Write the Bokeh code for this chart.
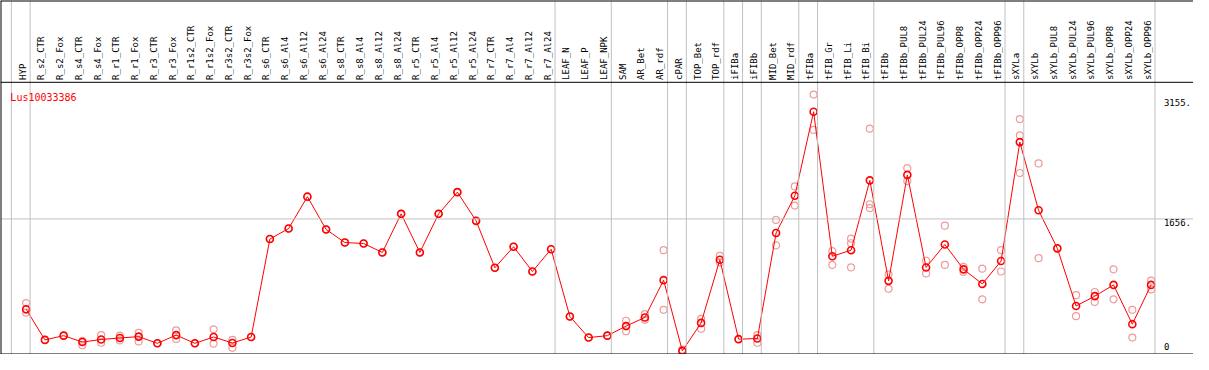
import numpy as np
from bokeh.plotting import figure
from bokeh.models import Range1d, Span, Label, ColumnDataSource
from bokeh.core.properties import value
from bokeh.embed import file_html
from bokeh.resources import INLINE

# ---------------- data ----------------
samples = ["HYP", "R_s2_CTR", "R_s2_Fox", "R_s4_CTR", "R_s4_Fox", "R_r1_CTR", "R_r1_Fox",
           "R_r3_CTR", "R_r3_Fox", "R_r1s2_CTR", "R_r1s2_Fox", "R_r3s2_CTR", "R_r3s2_Fox",
           "R_s6_CTR", "R_s6_Al4", "R_s6_Al12", "R_s6_Al24", "R_s8_CTR", "R_s8_Al4", "R_s8_Al12",
           "R_s8_Al24", "R_r5_CTR", "R_r5_Al4", "R_r5_Al12", "R_r5_Al24", "R_r7_CTR", "R_r7_Al4",
           "R_r7_Al12", "R_r7_Al24", "LEAF_N", "LEAF_P", "LEAF_NPK", "SAM", "AR_Bet", "AR_rdf",
           "cPAR", "TOP_Bet", "TOP_rdf", "iFIBa", "iFIBb", "MID_Bet", "MID_rdf", "tFIBa",
           "tFIB_Gr", "tFIB_Li", "tFIB_Bi", "tFIBb", "tFIBb_PUL8", "tFIBb_PUL24", "tFIBb_PUL96",
           "tFIBb_OPP8", "tFIBb_OPP24", "tFIBb_OPP96", "sXYLa", "sXYLb", "sXYLb_PUL8",
           "sXYLb_PUL24", "sXYLb_PUL96", "sXYLb_OPP8", "sXYLb_OPP24", "sXYLb_OPP96"]

means = [524, 140, 193, 113, 145, 164, 181, 97, 200, 97, 176, 101, 176,
         1404, 1536, 1935, 1524, 1360, 1348, 1236, 1720, 1236, 1720, 1992, 1632,
         1044, 1308, 997, 1276, 433, 169, 193, 313, 421, 889, 2, 353, 1144, 149, 157,
         1480, 1947, 2999, 1188, 1264, 2139, 880, 2208, 1048, 1336, 1024, 841, 1128,
         2619, 1764, 1288, 565, 688, 829, 337, 829]

replicates = [[601, 481, 520], [140], [193], [128, 73], [200, 104], [193, 133], [229, 121],
              [97], [260, 152], [97], [272, 92], [140, 41], [176],
              [1404], [1536], [1935], [1524], [1360], [1348], [1236], [1720], [1236], [1720],
              [1992], [1632], [1044], [1308], [997], [1276], [433], [169], [193],
              [380, 248], [464, 392], [1264, 517], [18, 0], [404, 281], [1192, 1112], [149],
              [200, 104], [1644, 1324], [2064, 1824], [3215, 2771], [1252, 1080],
              [1408, 1351, 1048], [2787, 1840, 1792], [961, 781], [2292, 2131], [1132, 973],
              [1572, 1080], [1056, 992], [1032, 649], [1264, 997], [2907, 2703, 2232],
              [2352, 1164], [1280], [700, 437], [740, 616], [1024, 649], [517, 169], [884, 772]]

group_sizes = [1, 28, 3, 3, 1, 2, 1, 1, 2, 1, 3, 7, 1, 7]

axis_values = [3155, 1656, 0]
axis_labels = ["3155.", "1656.", "0"]
series_name = "Lus10033386"

# ---------------- layout ----------------
W, H = 1193, 354
REF_W, REF_H = 1209, 370
COL = 19.0            # reference px per column
X0 = 26.0             # reference px of first column
Y_ZERO = 366.4        # reference px of value 0
PX_PER_UNIT = 0.08339
FONT = "DejaVu Sans Mono"


def vx(px):
    return (px - X0) / COL


def vy(py):
    return (Y_ZERO - py) / PX_PER_UNIT


p = figure(width=W, height=H, output_backend="svg", toolbar_location=None,
           x_range=Range1d(vx(0), vx(REF_W)), y_range=Range1d(vy(REF_H), vy(0)),
           x_axis_location=None, y_axis_location=None, min_border=0)
p.xgrid.visible = False
p.ygrid.visible = False
p.outline_line_color = None
p.background_fill_color = "white"
p.border_fill_color = "white"

# group separators
bounds = np.concatenate([[0], np.cumsum(group_sizes)])
for b in bounds:
    p.add_layout(Span(location=b - 15.0 / COL, dimension="height",
                      line_color="#c0c0c0", line_width=1))

# horizontal reference line
p.add_layout(Span(location=axis_values[1], dimension="width", line_color="#c0c0c0", line_width=1))
# separator under the labels
p.add_layout(Span(location=vy(85.5), dimension="width", line_color="black", line_width=1))
# border (top, left, bottom)
p.add_layout(Span(location=vy(0), dimension="width", line_color="black", line_width=2))
p.add_layout(Span(location=vy(REF_H), dimension="width", line_color="black", line_width=2))
p.add_layout(Span(location=vx(0), dimension="height", line_color="black", line_width=2))

idx = np.arange(len(samples))

# column labels
lab_src = ColumnDataSource(dict(x=idx, y=[vy(83)] * len(samples), label=samples))
p.text(x="x", y="y", text="label", source=lab_src, angle=np.pi / 2,
       text_align="left", text_baseline="middle", x_offset=-3.5,
       text_font=value(FONT), text_font_size="9px", text_color="black")

# replicates
rx, ry = [], []
for i, reps in enumerate(replicates):
    for r in reps:
        rx.append(i)
        ry.append(r)
p.scatter(rx, ry, marker="circle", size=7, fill_color=None,
          line_color="#f09a9a", line_width=1.2)

# mean line and points
src = ColumnDataSource(dict(x=idx, y=means, name=samples))
p.line("x", "y", source=src, line_color="red", line_width=1)
p.scatter("x", "y", source=src, marker="circle", size=7, fill_color=None,
          line_color="red", line_width=1.6)

# series name
p.add_layout(Label(x=vx(10), y=vy(101), text=series_name, text_color="red",
                   text_font=FONT, text_font_size="10px",
                   text_baseline="alphabetic", text_align="left"))

# right-hand scale labels
for v, t in zip(axis_values, axis_labels):
    p.add_layout(Label(x=vx(1179), y=max(v, vy(358.3)), text=t, text_color="black",
                       text_font=FONT, text_font_size="9px",
                       text_baseline="top", text_align="left"))

open("out.html", "w").write(file_html(p, INLINE))
